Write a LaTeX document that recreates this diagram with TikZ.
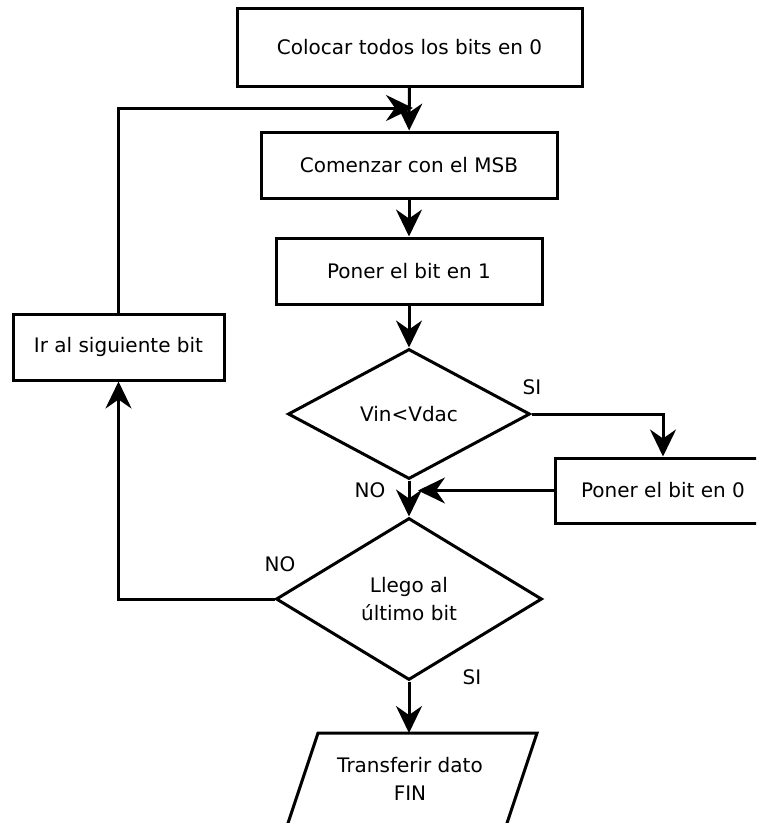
\documentclass[tikz,border=0pt]{standalone}
\usepackage{fontspec}
\setmainfont{DejaVu Sans}
\usetikzlibrary{shapes.geometric,arrows.meta}

\begin{document}
\begin{tikzpicture}[x=1pt,y=-1pt,
  every node/.style={font=\fontsize{20}{28}\selectfont},
  stepbox/.style={draw, line width=3pt, inner sep=0pt, align=center},
  decision/.style={draw, diamond, line width=3pt, inner sep=0pt, align=center},
  flow/.style={line width=3pt, -{Stealth[length=27pt,width=26pt,inset=9pt]}},
  lbl/.style={inner sep=0pt}]

  % page frame
  \useasboundingbox (0,0) rectangle (756,823);
  \clip (0,0) rectangle (756,823);

  % process boxes
  \node[stepbox, minimum width=345pt, minimum height=78pt] (init) at (409.5,47) {Colocar todos los bits en 0};
  \node[stepbox, minimum width=296pt, minimum height=66pt] (msb) at (409,165) {Comenzar con el MSB};
  \node[stepbox, minimum width=266pt, minimum height=66pt] (set1) at (409,271) {Poner el bit en 1};
  \node[stepbox, minimum width=211pt, minimum height=66pt] (next) at (118.5,347) {Ir al siguiente bit};
  \node[stepbox, minimum width=216pt, minimum height=65pt] (set0) at (663,490.5) {Poner el bit en 0};

  % decisions
  \node[decision, minimum width=242pt, minimum height=130pt, aspect=1.86] (cmp) at (409,414) {Vin<Vdac};
  \node[decision, minimum width=266pt, minimum height=162pt, aspect=1.64] (last) at (409,599) {Llego al\\último bit};

  % output (parallelogram)
  \coordinate (pTL) at (318,733);
  \coordinate (pTR) at (537,733);
  \coordinate (pBR) at (506,826);
  \coordinate (pBL) at (287,826);
  \draw[line width=3pt, line join=miter] (pTL) -- (pTR) -- (pBR) -- (pBL) -- cycle;
  \node[align=center, inner sep=0pt] (out) at (410,779) {Transferir dato\\FIN};
  \coordinate (outin) at (409,733);

  % junction points on the main line
  \coordinate (loopin) at (413,108);
  \coordinate (zeroin) at (418,490.5);

  % connectors
  \draw[flow] (init) -- (msb);
  \draw[flow] (msb) -- (set1);
  \draw[flow] (set1) -- (cmp);
  \draw[flow] (cmp) -- (last);
  \draw[flow] (cmp.east) -| (set0.north);
  \draw[flow] (set0.west) -- (zeroin);
  \draw[flow] (last.west) -| (next.south);
  \draw[flow] (next.north) |- (loopin);
  \draw[flow] (last.south) -- (outin);

  % branch labels
  \node[lbl] (siA) at (532,387) {SI};
  \node[lbl] (noA) at (370,490) {NO};
  \node[lbl] (noB) at (280,564) {NO};
  \node[lbl] (siB) at (472,677) {SI};
\end{tikzpicture}
\end{document}
